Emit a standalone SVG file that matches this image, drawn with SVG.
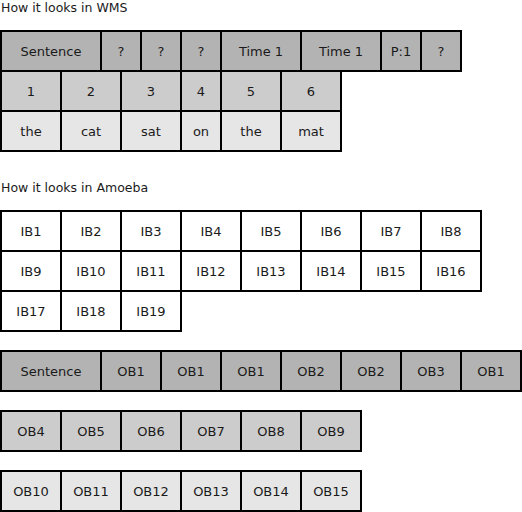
<svg xmlns="http://www.w3.org/2000/svg" width="522" height="512" viewBox="0 0 522 512">
<style>
.c rect{stroke:#000;stroke-width:2}
.d{fill:#b3b3b3}.m{fill:#cccccc}.l{fill:#e6e6e6}.w{fill:#ffffff}
text{font-family:"DejaVu Sans",Verdana,sans-serif;font-size:13px;fill:#1a1a1a;text-anchor:middle}
.t{text-anchor:start;font-size:12.5px}
</style>
<rect x="0" y="0" width="522" height="512" fill="#fff"/>
<text class="t" x="1" y="12">How it looks in WMS</text>
<text class="t" x="1" y="192">How it looks in Amoeba</text>
<g id="wms" class="c">
<g id="w-sent"><rect class="d" x="1" y="31" width="100" height="40"/><text x="51" y="55.5">Sentence</text></g>
<g id="w-q1"><rect class="d" x="101" y="31" width="40" height="40"/><text x="121" y="55.5">?</text></g>
<g id="w-q2"><rect class="d" x="141" y="31" width="40" height="40"/><text x="161" y="55.5">?</text></g>
<g id="w-q3"><rect class="d" x="181" y="31" width="40" height="40"/><text x="201" y="55.5">?</text></g>
<g id="w-t1"><rect class="d" x="221" y="31" width="80" height="40"/><text x="261" y="55.5">Time 1</text></g>
<g id="w-t2"><rect class="d" x="301" y="31" width="80" height="40"/><text x="341" y="55.5">Time 1</text></g>
<g id="w-p1"><rect class="d" x="381" y="31" width="40" height="40"/><text x="401" y="55.5">P:1</text></g>
<g id="w-q4"><rect class="d" x="421" y="31" width="40" height="40"/><text x="441" y="55.5">?</text></g>
<g id="w-n1"><rect class="m" x="1" y="71" width="60" height="40"/><text x="31" y="95.5">1</text></g>
<g id="w-n2"><rect class="m" x="61" y="71" width="60" height="40"/><text x="91" y="95.5">2</text></g>
<g id="w-n3"><rect class="m" x="121" y="71" width="60" height="40"/><text x="151" y="95.5">3</text></g>
<g id="w-n4"><rect class="m" x="181" y="71" width="40" height="40"/><text x="201" y="95.5">4</text></g>
<g id="w-n5"><rect class="m" x="221" y="71" width="60" height="40"/><text x="251" y="95.5">5</text></g>
<g id="w-n6"><rect class="m" x="281" y="71" width="60" height="40"/><text x="311" y="95.5">6</text></g>
<g id="w-the1"><rect class="l" x="1" y="111" width="60" height="40"/><text x="31" y="135.5">the</text></g>
<g id="w-cat"><rect class="l" x="61" y="111" width="60" height="40"/><text x="91" y="135.5">cat</text></g>
<g id="w-sat"><rect class="l" x="121" y="111" width="60" height="40"/><text x="151" y="135.5">sat</text></g>
<g id="w-on"><rect class="l" x="181" y="111" width="40" height="40"/><text x="201" y="135.5">on</text></g>
<g id="w-the2"><rect class="l" x="221" y="111" width="60" height="40"/><text x="251" y="135.5">the</text></g>
<g id="w-mat"><rect class="l" x="281" y="111" width="60" height="40"/><text x="311" y="135.5">mat</text></g>
</g>
<g id="ib" class="c">
<g id="ib1"><rect class="w" x="1" y="211" width="60" height="40"/><text x="31" y="235.5">IB1</text></g>
<g id="ib2"><rect class="w" x="61" y="211" width="60" height="40"/><text x="91" y="235.5">IB2</text></g>
<g id="ib3"><rect class="w" x="121" y="211" width="60" height="40"/><text x="151" y="235.5">IB3</text></g>
<g id="ib4"><rect class="w" x="181" y="211" width="60" height="40"/><text x="211" y="235.5">IB4</text></g>
<g id="ib5"><rect class="w" x="241" y="211" width="60" height="40"/><text x="271" y="235.5">IB5</text></g>
<g id="ib6"><rect class="w" x="301" y="211" width="60" height="40"/><text x="331" y="235.5">IB6</text></g>
<g id="ib7"><rect class="w" x="361" y="211" width="60" height="40"/><text x="391" y="235.5">IB7</text></g>
<g id="ib8"><rect class="w" x="421" y="211" width="60" height="40"/><text x="451" y="235.5">IB8</text></g>
<g id="ib9"><rect class="w" x="1" y="251" width="60" height="40"/><text x="31" y="275.5">IB9</text></g>
<g id="ib10"><rect class="w" x="61" y="251" width="60" height="40"/><text x="91" y="275.5">IB10</text></g>
<g id="ib11"><rect class="w" x="121" y="251" width="60" height="40"/><text x="151" y="275.5">IB11</text></g>
<g id="ib12"><rect class="w" x="181" y="251" width="60" height="40"/><text x="211" y="275.5">IB12</text></g>
<g id="ib13"><rect class="w" x="241" y="251" width="60" height="40"/><text x="271" y="275.5">IB13</text></g>
<g id="ib14"><rect class="w" x="301" y="251" width="60" height="40"/><text x="331" y="275.5">IB14</text></g>
<g id="ib15"><rect class="w" x="361" y="251" width="60" height="40"/><text x="391" y="275.5">IB15</text></g>
<g id="ib16"><rect class="w" x="421" y="251" width="60" height="40"/><text x="451" y="275.5">IB16</text></g>
<g id="ib17"><rect class="w" x="1" y="291" width="60" height="40"/><text x="31" y="315.5">IB17</text></g>
<g id="ib18"><rect class="w" x="61" y="291" width="60" height="40"/><text x="91" y="315.5">IB18</text></g>
<g id="ib19"><rect class="w" x="121" y="291" width="60" height="40"/><text x="151" y="315.5">IB19</text></g>
</g>
<g id="ob" class="c">
<g id="o-sent"><rect class="d" x="1" y="351" width="100" height="40"/><text x="51" y="375.5">Sentence</text></g>
<g id="o-a"><rect class="d" x="101" y="351" width="60" height="40"/><text x="131" y="375.5">OB1</text></g>
<g id="o-b"><rect class="d" x="161" y="351" width="60" height="40"/><text x="191" y="375.5">OB1</text></g>
<g id="o-c"><rect class="d" x="221" y="351" width="60" height="40"/><text x="251" y="375.5">OB1</text></g>
<g id="o-d"><rect class="d" x="281" y="351" width="60" height="40"/><text x="311" y="375.5">OB2</text></g>
<g id="o-e"><rect class="d" x="341" y="351" width="60" height="40"/><text x="371" y="375.5">OB2</text></g>
<g id="o-f"><rect class="d" x="401" y="351" width="60" height="40"/><text x="431" y="375.5">OB3</text></g>
<g id="o-g"><rect class="d" x="461" y="351" width="60" height="40"/><text x="491" y="375.5">OB1</text></g>
<g id="ob4"><rect class="m" x="1" y="411" width="60" height="40"/><text x="31" y="435.5">OB4</text></g>
<g id="ob5"><rect class="m" x="61" y="411" width="60" height="40"/><text x="91" y="435.5">OB5</text></g>
<g id="ob6"><rect class="m" x="121" y="411" width="60" height="40"/><text x="151" y="435.5">OB6</text></g>
<g id="ob7"><rect class="m" x="181" y="411" width="60" height="40"/><text x="211" y="435.5">OB7</text></g>
<g id="ob8"><rect class="m" x="241" y="411" width="60" height="40"/><text x="271" y="435.5">OB8</text></g>
<g id="ob9"><rect class="m" x="301" y="411" width="60" height="40"/><text x="331" y="435.5">OB9</text></g>
<g id="ob10"><rect class="l" x="1" y="471" width="60" height="40"/><text x="31" y="495.5">OB10</text></g>
<g id="ob11"><rect class="l" x="61" y="471" width="60" height="40"/><text x="91" y="495.5">OB11</text></g>
<g id="ob12"><rect class="l" x="121" y="471" width="60" height="40"/><text x="151" y="495.5">OB12</text></g>
<g id="ob13"><rect class="l" x="181" y="471" width="60" height="40"/><text x="211" y="495.5">OB13</text></g>
<g id="ob14"><rect class="l" x="241" y="471" width="60" height="40"/><text x="271" y="495.5">OB14</text></g>
<g id="ob15"><rect class="l" x="301" y="471" width="60" height="40"/><text x="331" y="495.5">OB15</text></g>
</g>
<g id="connectors"/>
</svg>
